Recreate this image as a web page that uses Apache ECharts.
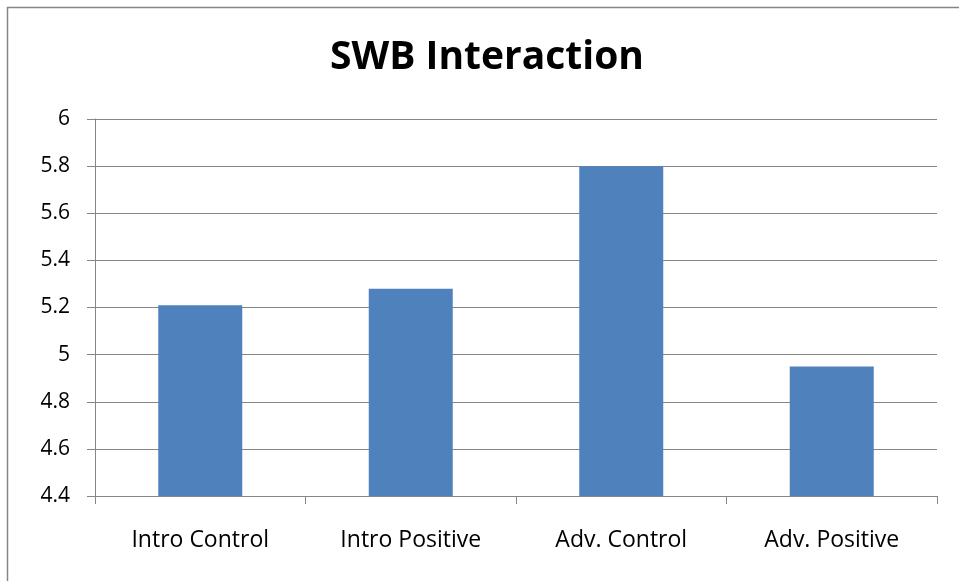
<!DOCTYPE html>
<html>
<head>
<meta charset="utf-8">
<script src="https://cdn.jsdelivr.net/npm/echarts@6/dist/echarts.min.js"></script>
<style>
html, body { margin: 0; padding: 0; background: #fff; }
#chart { width: 959px; height: 581px; }
</style>
</head>
<body>
<div id="chart"></div>
<script>
var categories = ['Intro Control', 'Intro Positive', 'Adv. Control', 'Adv. Positive'];
var swbValues = [5.21, 5.28, 5.80, 4.95];
var yMin = 4.4, yMax = 6, yStep = 0.2;

var myChart = echarts.init(document.getElementById('chart'));
var lineGray = '#868686';
var fontFam = '"Open Sans", Lato, sans-serif';

var option = {
    animation: false,
    backgroundColor: '#fff',
    title: {
        text: 'SWB Interaction',
        left: 325,
        top: 33,
        textStyle: { fontSize: 39, fontWeight: 'bold', color: '#000', fontFamily: fontFam }
    },
    graphic: [{
        type: 'rect',
        shape: { x: 7.5, y: 7.5, width: 1000, height: 1000 },
        style: { fill: 'none', stroke: lineGray, lineWidth: 1.5 },
        silent: true
    }],
    grid: { left: 95, right: 22, top: 119, bottom: 85 },
    xAxis: {
        type: 'category',
        data: categories,
        axisLine: { lineStyle: { color: lineGray, width: 1 } },
        axisTick: { show: true, length: 8, alignWithLabel: false, lineStyle: { color: lineGray } },
        axisLabel: { fontSize: 23, color: '#000', margin: 33, fontFamily: fontFam }
    },
    yAxis: {
        type: 'value',
        min: yMin,
        max: yMax,
        interval: yStep,
        axisLine: { show: true, lineStyle: { color: lineGray, width: 1 } },
        axisTick: { show: true, length: 8, lineStyle: { color: lineGray } },
        splitLine: { lineStyle: { color: lineGray, width: 1 } },
        axisLabel: {
            fontSize: 21, color: '#000', margin: 25, fontFamily: fontFam,
            formatter: function (v) { return String(Math.round(v * 10) / 10); }
        }
    },
    series: [{
        name: 'SWB',
        type: 'bar',
        data: swbValues,
        barWidth: 84,
        itemStyle: { color: '#4F81BD' }
    }]
};

myChart.setOption(option);
</script>
</body>
</html>
